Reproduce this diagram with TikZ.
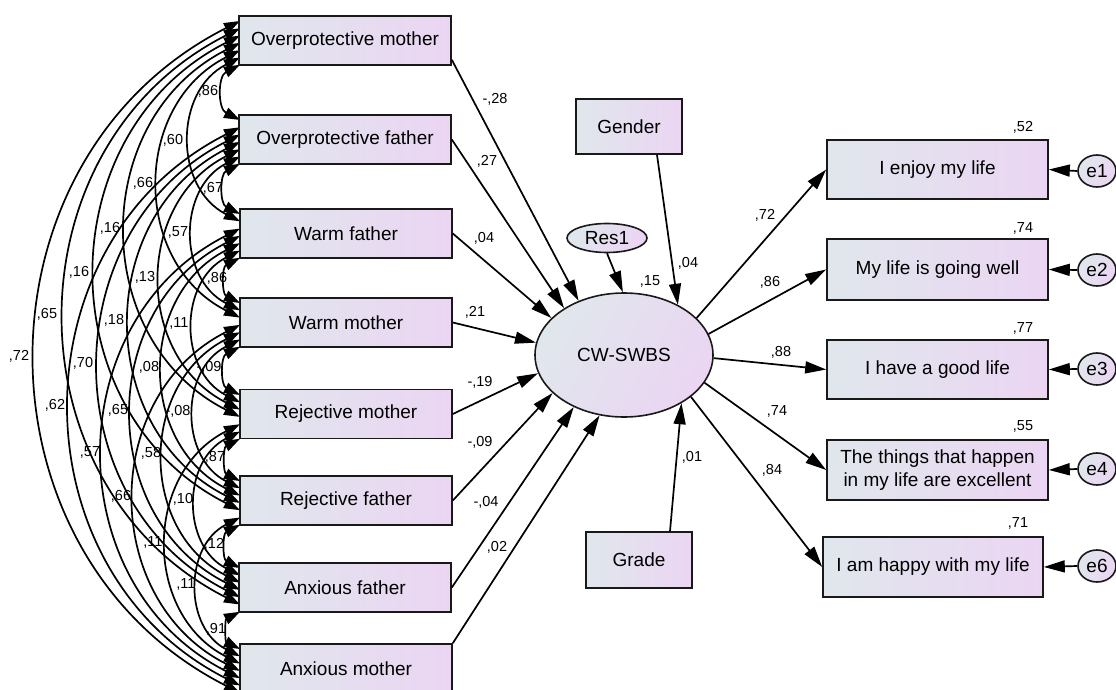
\documentclass[tikz,border=0pt]{standalone}
\usepackage{fontspec}
\setmainfont{Liberation Sans}
\usetikzlibrary{arrows.meta,shapes.geometric}
\definecolor{cL}{RGB}{224,231,236}
\definecolor{cR}{RGB}{235,213,243}
\begin{document}
\begin{tikzpicture}[x=1pt,y=-1pt,
  box/.style={draw=black!90, line width=1.6pt, left color=cL, right color=cR,
    minimum width=212pt, minimum height=49pt, inner sep=0pt,
    font=\fontsize{19}{22}\selectfont},
  rbox/.style={box, minimum width=221pt, minimum height=59pt},
  sbox/.style={box, minimum width=106pt, minimum height=55pt},
  lat/.style={ellipse, draw=black!90, line width=1.6pt, left color=cL, right color=cR,
    shading angle=60, inner sep=0pt, font=\fontsize{19}{22}\selectfont},
  lbl/.style={font=\fontsize{14.5}{16}\selectfont, inner sep=0pt},
  pth/.style={line width=1.7pt, -{Triangle[length=21pt,width=12pt]}},
  cov/.style={line width=1.7pt, {Triangle[length=16pt,width=11pt]}-{Triangle[length=16pt,width=11pt]}}
]
\useasboundingbox (0,0) rectangle (1116,690);

% labels of covariances
\node[lbl] (k12) at (208,91) {,86};
\node[lbl] (k13) at (173,140) {,60};
\node[lbl] (k14) at (143,183) {,66};
\node[lbl] (k23) at (213,188) {,67};
\node[lbl] (k15) at (110,228) {,16};
\node[lbl] (k24) at (178,232) {,57};
\node[lbl] (k16) at (79,272) {,16};
\node[lbl] (k25) at (145,277) {,13};
\node[lbl] (k34) at (217,278) {,86};
\node[lbl] (k17) at (47,314) {,65};
\node[lbl] (k26) at (114,320) {,18};
\node[lbl] (k35) at (179,323) {,11};
\node[lbl] (k18) at (19,356) {,72};
\node[lbl] (k27) at (83,363) {,70};
\node[lbl] (k36) at (149,367) {,08};
\node[lbl] (k45) at (209,367) {-,09};
\node[lbl] (k28) at (55,405) {,62};
\node[lbl] (k37) at (118,410) {,65};
\node[lbl] (k46) at (178,411) {-,08};
\node[lbl] (k38) at (90,452) {,57};
\node[lbl] (k47) at (151,453) {,58};
\node[lbl] (k56) at (215,457) {,87};
\node[lbl] (k48) at (121,496) {,66};
\node[lbl] (k57) at (183,499) {,10};
\node[lbl] (k58) at (153,542) {,11};
\node[lbl] (k67) at (214,544) {,12};
\node[lbl] (k68) at (186,584) {,11};
\node[lbl] (k78) at (216,629) {,91};

% covariance arcs
\foreach \i in {1,...,7}{
  \pgfmathtruncatemacro\ip{\i+1}
  \foreach \j in {\ip,...,8}{
    \pgfmathsetmacro\ya{{16,115,209,298,390,476,563,644}[\i-1]+5+7.3*(\i-1+8-\j)}
    \pgfmathsetmacro\yb{{16,115,209,298,390,476,563,644}[\j-1]+5+7.3*(\j-1-\i)}
    \pgfmathsetmacro\cc{\yb-\ya}
    \coordinate (ca\i\j) at (240,\ya);
    \coordinate (cb\i\j) at (240,\yb);
    \draw[cov] (ca\i\j) .. controls ({240-0.405*\cc},{\ya+0.2052*\cc}) and ({240-0.405*\cc},{\yb-0.2052*\cc}) .. (cb\i\j);
  }
}

% left boxes
\node[box] (opm) at (345,40.5) {Overprotective mother};
\node[box] (opf) at (345,139.5) {Overprotective father};
\node[box] (wf) at (346,233.5) {Warm father};
\node[box] (wm) at (346,322.5) {Warm mother};
\node[box] (rm) at (346,414) {Rejective mother};
\node[box] (rf) at (346,500.5) {Rejective father};
\node[box] (af) at (345,587.5) {Anxious father};
\node[box] (am) at (346,668.5) {Anxious mother};

% central
\node[lat, minimum width=178pt, minimum height=124pt] (cw) at (624,355) {CW-SWBS};
\node[lat, minimum width=80pt, minimum height=29pt] (res) at (607,238) {Res1};
\node[sbox] (gender) at (629,126.5) {Gender};
\node[sbox, minimum height=56pt] (grade) at (639,560) {Grade};

% right boxes
\node[rbox] (enjoy) at (937.5,169.5) {I enjoy my life};
\node[rbox, minimum height=61pt] (well) at (937.5,269.5) {My life is going well};
\node[rbox] (good) at (937.5,369.5) {I have a good life};
\node[rbox, minimum height=60pt, align=center, font=\fontsize{19}{23}\selectfont] (things) at (937.5,470) {The things that happen\\in my life are excellent};
\node[rbox, minimum width=220pt, minimum height=60pt] (happy) at (933,567) {I am happy with my life};

\node[lat, minimum width=38pt, minimum height=32pt] (e1) at (1097,171) {e1};
\node[lat, minimum width=38pt, minimum height=32pt] (e2) at (1097,270) {e2};
\node[lat, minimum width=38pt, minimum height=32pt] (e3) at (1097,369) {e3};
\node[lat, minimum width=38pt, minimum height=32pt] (e4) at (1097,469) {e4};
\node[lat, minimum width=38pt, minimum height=32pt] (e6) at (1097,566) {e6};

% paths into CW-SWBS
\draw[pth] ([yshift=6pt]opm.south east) -- (cw.130);
\draw[pth] (opf.east) -- (cw.142.4);
\draw[pth] (wf.east) -- (cw.153.1);
\draw[pth] (wm.east) -- (cw.172.2);
\draw[pth] (rm.east) -- (cw.192);
\draw[pth] (rf.east) -- (cw.208.8);
\draw[pth] (af.east) -- (cw.226.7);
\draw[pth] (am.north east) -- (cw.248.4);
\draw[pth] ([xshift=28pt]gender.south) -- (cw.43.9);
\draw[pth] (res.south) -- (cw.91);
\draw[pth] ([xshift=31pt]grade.north) -- (cw.320.6);

% paths out
\draw[pth] (cw.27.8) -- (enjoy.west);
\draw[pth] (cw.14.7) -- (well.west);
\draw[pth] (cw.358) -- (good.west);
\draw[pth] (cw.341.6) -- (things.west);
\draw[pth] (cw.328.7) -- (happy.west);

\draw[pth] (e1.west) -- (enjoy.east);
\draw[pth] (e2.west) -- (well.east);
\draw[pth] (e3.west) -- (good.east);
\draw[pth] (e4.west) -- (things.east);
\draw[pth] (e6.west) -- (happy.east);

% path labels
\node[lbl] (p1) at (495,99) {-,28};
\node[lbl] (p2) at (487,161) {,27};
\node[lbl] (p3) at (484,238) {,04};
\node[lbl] (p4) at (475,312) {,21};
\node[lbl] (p5) at (480,382) {-,19};
\node[lbl] (p6) at (480,442) {-,09};
\node[lbl] (p7) at (486,502) {-,04};
\node[lbl] (p8) at (497,547) {,02};
\node[lbl] (p9) at (650,281) {,15};
\node[lbl] (p10) at (688,263) {,04};
\node[lbl] (p11) at (692,457) {,01};
\node[lbl] (q1) at (765,215) {,72};
\node[lbl] (q2) at (770,282) {,86};
\node[lbl] (q3) at (781,352) {,88};
\node[lbl] (q4) at (777,411) {,74};
\node[lbl] (q5) at (772,470) {,84};
\node[lbl] (r1) at (1023,127) {,52};
\node[lbl] (r2) at (1023,228) {,74};
\node[lbl] (r3) at (1023,328) {,77};
\node[lbl] (r4) at (1023,426) {,55};
\node[lbl] (r5) at (1018,523) {,71};
\end{tikzpicture}
\end{document}
